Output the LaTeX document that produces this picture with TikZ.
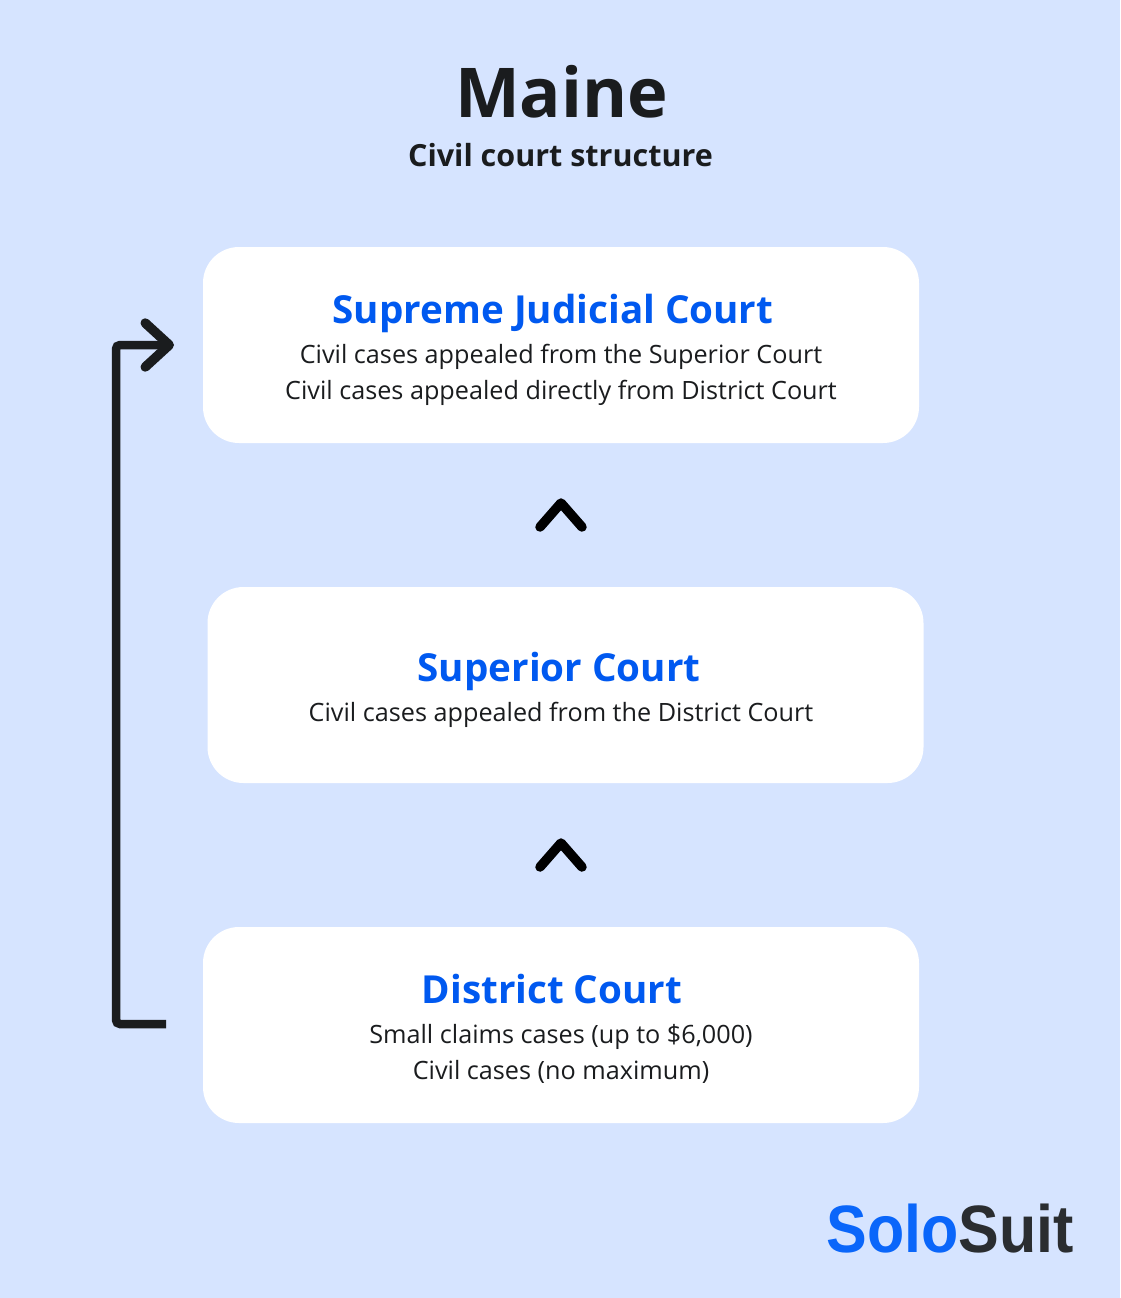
\documentclass[tikz,border=0pt]{standalone}
\usepackage{fontspec}
\setmainfont{Open Sans}
\newfontfamily\logofont[FakeStretch=0.91]{Liberation Sans}
\usepackage{tikz}
\usetikzlibrary{arrows.meta,positioning}
\definecolor{pagebg}{HTML}{D6E4FF}
\definecolor{courtblue}{HTML}{0059F0}
\definecolor{logoblue}{HTML}{0A66FA}
\definecolor{inkdark}{HTML}{1A1C1E}
\definecolor{logodark}{HTML}{2A2D30}
\tikzset{
  courtbox/.style={fill=white,rounded corners=36pt,minimum width=716pt,minimum height=196pt,inner sep=0pt},
  courtname/.style={font=\fontsize{38.6}{38.6}\selectfont\bfseries,text=courtblue,inner sep=0pt,anchor=base},
  courttext/.style={font=\fontsize{25.2}{25.2}\selectfont,text=inkdark,inner sep=0pt,anchor=base},
  chevron/.style={draw=black,line width=9.5pt,line cap=round,line join=round},
  appeal/.style={draw=inkdark,line width=8.5pt,rounded corners=4pt,
    -{Straight Barb[round,length=24pt,width=44pt,line width=9.5pt]}}
}
\begin{document}
\begin{tikzpicture}[x=1pt,y=-1pt]
  \useasboundingbox[fill=pagebg] (0,0) rectangle (1120,1298);
  % heading
  \node[inner sep=0pt,anchor=base,text=inkdark,font=\fontsize{68.7}{68.7}\selectfont\bfseries] (title) at (561.5,117) {Maine};
  \node[inner sep=0pt,anchor=base,text=inkdark,font=\fontsize{30.5}{30.5}\selectfont\bfseries] (subtitle) at (560.5,166) {Civil court structure};
  % boxes
  \node[courtbox] (supreme) at (561,345) {};
  \node[courtbox] (superior) at (565.5,685) {};
  \node[courtbox] (district) at (561,1025) {};
  % supreme
  \node[courtname] (supremename) at (553,323) {Supreme Judicial Court};
  \node[courttext] (supremeone) at (561,363) {Civil cases appealed from the Superior Court};
  \node[courttext] (supremetwo) at (561,399) {Civil cases appealed directly from District Court};
  % superior
  \node[courtname] (superiorname) at (559,681) {Superior Court};
  \node[courttext] (superiorone) at (561,721) {Civil cases appealed from the District Court};
  % district
  \node[courtname] (districtname) at (552,1003) {District Court};
  \node[courttext] (districtone) at (561,1043) {Small claims cases (up to \$6,000)};
  \node[courttext] (districttwo) at (561,1079) {Civil cases (no maximum)};
  % chevrons
  \coordinate (chevrona) at (561,503);
  \coordinate (chevronb) at (561,843);
  \draw[chevron] ([shift={(-21,24)}]chevrona) -- (chevrona) -- ([shift={(21,24)}]chevrona);
  \draw[chevron] ([shift={(-21,24)}]chevronb) -- (chevronb) -- ([shift={(21,24)}]chevronb);
  % direct appeal
  \coordinate (appealstart) at (166,1024);
  \coordinate (appealend) at (174,345);
  \draw[appeal] (appealstart) -- (116,1024) -- (116,345) -- (appealend);
  % logo
  \node[inner sep=0pt,anchor=base east,font=\logofont\fontsize{67}{67}\selectfont\bfseries] (logo) at (1074,1252) {\textcolor{logoblue}{Solo}\textcolor{logodark}{Suit}};
\end{tikzpicture}
\end{document}
